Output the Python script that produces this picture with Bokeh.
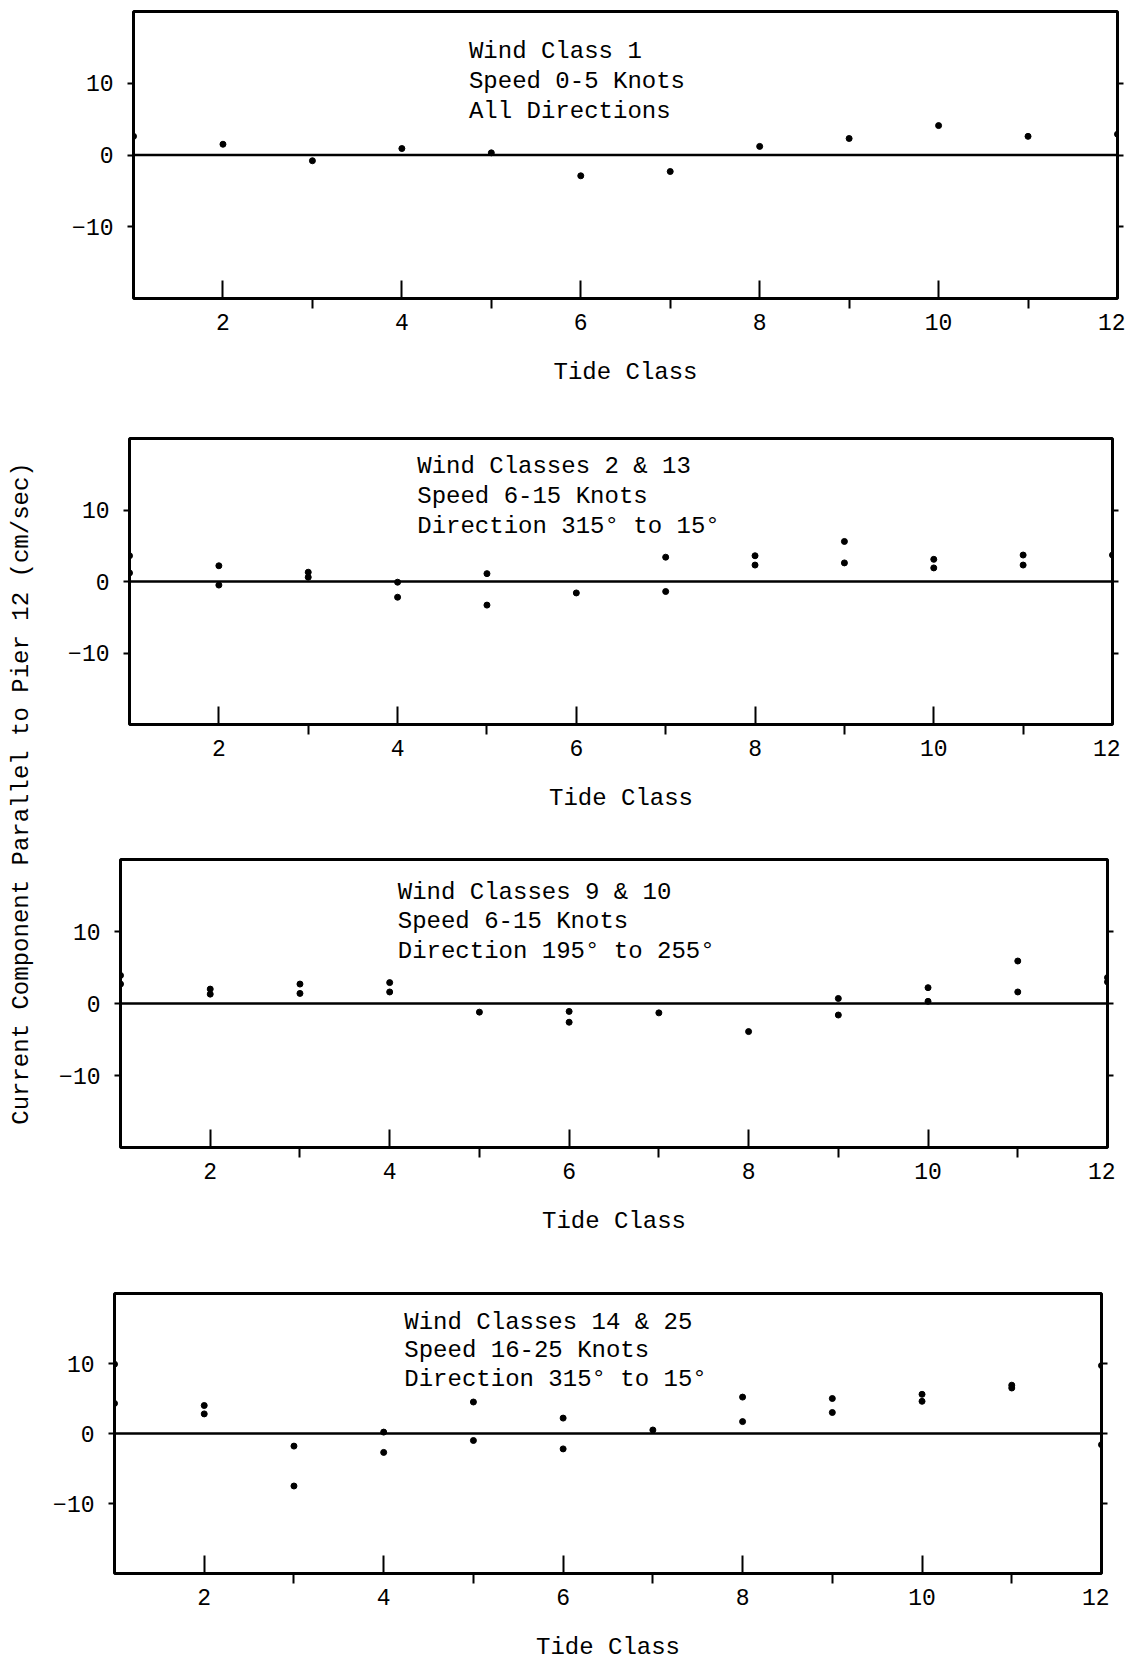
import math
from bokeh.plotting import figure
from bokeh.layouts import row, column
from bokeh.models import FixedTicker, LinearAxis, Span, Spacer
from bokeh.embed import file_html
from bokeh.resources import INLINE
from bokeh.core.properties import value

FONT = "Liberation Mono"

# ---------------- data ----------------
x_ticks = [2, 4, 6, 8, 10, 12]
x_minor = [3, 5, 7, 9, 11]
y_ticks = [-10, 0, 10]

wc1_x = [1, 2, 3, 4, 5, 6, 7, 8, 9, 10, 11, 12]
wc1_y = [2.6, 1.5, -0.8, 0.9, 0.3, -2.9, -2.3, 1.2, 2.3, 4.1, 2.6, 2.9]

wc2_x = [1, 1, 2, 2, 3, 3, 4, 4, 5, 5, 6, 7, 7, 8, 8, 9, 9, 10, 10, 11, 11, 12]
wc2_y = [3.6, 1.2, 2.2, -0.5, 1.3, 0.6, -0.1, -2.2, 1.1, -3.3, -1.6, 3.4, -1.4,
         3.6, 2.3, 5.6, 2.6, 3.1, 1.9, 3.7, 2.3, 3.7]

wc3_x = [1, 1, 2, 2, 3, 3, 4, 4, 5, 6, 6, 7, 8, 9, 9, 10, 10, 11, 11, 12, 12]
wc3_y = [3.9, 2.7, 2.0, 1.3, 2.7, 1.4, 2.9, 1.6, -1.2, -1.1, -2.6, -1.3, -3.9,
         0.7, -1.6, 2.2, 0.3, 5.9, 1.6, 3.6, 3.0]

wc4_x = [1, 1, 2, 2, 3, 3, 4, 4, 5, 5, 6, 6, 7, 8, 8, 9, 9, 10, 10, 11, 11, 12, 12]
wc4_y = [9.9, 4.3, 4.0, 2.8, -1.8, -7.5, 0.2, -2.7, 4.5, -1.0, 2.2, -2.2, 0.5,
         5.2, 1.7, 5.0, 3.0, 5.6, 4.6, 6.9, 6.5, 9.7, -1.6]

titles1 = ["Wind Class 1", "Speed 0-5 Knots", "All Directions"]
titles2 = ["Wind Classes 2 & 13", "Speed 6-15 Knots", "Direction 315\u00b0 to 15\u00b0"]
titles3 = ["Wind Classes 9 & 10", "Speed 6-15 Knots", "Direction 195\u00b0 to 255\u00b0"]
titles4 = ["Wind Classes 14 & 25", "Speed 16-25 Knots", "Direction 315\u00b0 to 15\u00b0"]

y_label = "Current Component Parallel to Pier 12 (cm/sec)"
x_label = "Tide Class"

LABEL_W = 40
BASE_LEFT = 70
RIGHT_B = 8


def make_panel(xs, ys, lines, tx, tys, left, right, top, frame_h, bottom):
    shift = left - LABEL_W - BASE_LEFT
    h = top + frame_h + bottom
    p = figure(width=right + RIGHT_B - (LABEL_W + shift), height=h,
               x_range=(1, 12), y_range=(-20, 20),
               output_backend="svg", toolbar_location=None,
               min_border_left=BASE_LEFT, min_border_right=RIGHT_B,
               min_border_top=top, min_border_bottom=bottom,
               x_axis_label=x_label)
    p.background_fill_color = "white"
    p.border_fill_color = "white"
    p.outline_line_color = "black"
    p.outline_line_width = 3
    p.xgrid.visible = False
    p.ygrid.visible = False

    xa = p.xaxis[0]
    xa.ticker = FixedTicker(ticks=x_ticks, minor_ticks=x_minor)
    xa.axis_line_color = None
    xa.major_tick_in = 18
    xa.major_tick_out = 0
    xa.minor_tick_in = 0
    xa.minor_tick_out = 10
    xa.major_tick_line_width = 2
    xa.minor_tick_line_width = 2
    xa.major_tick_line_color = "black"
    xa.minor_tick_line_color = "black"
    xa.major_label_standoff = 5
    xa.major_label_text_font = FONT
    xa.major_label_text_font_size = "23px"
    xa.major_label_text_color = "black"
    xa.axis_label_standoff = 26
    xa.axis_label_text_font = FONT
    xa.axis_label_text_font_size = "24px"
    xa.axis_label_text_font_style = "normal"
    xa.axis_label_text_color = "black"

    ya = p.yaxis[0]
    ya.ticker = FixedTicker(ticks=y_ticks)
    ya.axis_line_color = None
    ya.major_tick_in = 0
    ya.major_tick_out = 6
    ya.major_tick_line_width = 2
    ya.major_tick_line_color = "black"
    ya.minor_tick_line_color = None
    ya.major_label_standoff = 14
    ya.major_label_text_font = FONT
    ya.major_label_text_font_size = "23px"
    ya.major_label_text_color = "black"

    ra = LinearAxis(ticker=FixedTicker(ticks=y_ticks))
    ra.axis_line_color = None
    ra.major_tick_in = 0
    ra.major_tick_out = 6
    ra.major_tick_line_width = 2
    ra.minor_tick_line_color = None
    ra.major_label_overrides = {t: "" for t in y_ticks}
    ra.major_label_standoff = 0
    p.add_layout(ra, "right")

    p.add_layout(Span(location=0, dimension="width", line_color="black", line_width=2.5))

    p.scatter(xs, ys, size=6, color="black", marker="circle")

    for line, ty in zip(lines, tys):
        p.text(x=[tx], y=[ty], text=[line], text_font=value(FONT),
               text_font_size="24px", text_color="black",
               text_align="left", text_baseline="middle")
    if shift > 0:
        return row(Spacer(width=shift, height=h), p)
    return p


p1 = make_panel(wc1_x, wc1_y, titles1, 4.75, [14.4, 10.2, 6.1],
                left=133, right=1117, top=11, frame_h=287, bottom=127)
p2 = make_panel(wc2_x, wc2_y, titles2, 4.22, [16.1, 11.9, 7.7],
                left=129, right=1112, top=13, frame_h=286, bottom=121)
p3 = make_panel(wc3_x, wc3_y, titles3, 4.09, [15.4, 11.4, 7.2],
                left=120, right=1107, top=14, frame_h=288, bottom=128)
p4 = make_panel(wc4_x, wc4_y, titles4, 4.23, [15.9, 11.8, 7.7],
                left=114, right=1101, top=18, frame_h=282, bottom=88)

total_h = 425 + 420 + 430 + 388
lab = figure(width=LABEL_W, height=total_h, x_range=(0, LABEL_W), y_range=(0, total_h),
             output_backend="svg", toolbar_location=None, min_border=0,
             x_axis_location=None, y_axis_location=None)
lab.outline_line_color = None
lab.xgrid.visible = False
lab.ygrid.visible = False
lab.text(x=[21], y=[total_h - 793], text=[y_label], angle=math.pi / 2,
         text_font=value(FONT), text_font_size="24px", text_color="black",
         text_align="center", text_baseline="middle")

layout = row(lab, column(p1, p2, p3, p4))
open("out.html", "w").write(file_html(layout, INLINE))
